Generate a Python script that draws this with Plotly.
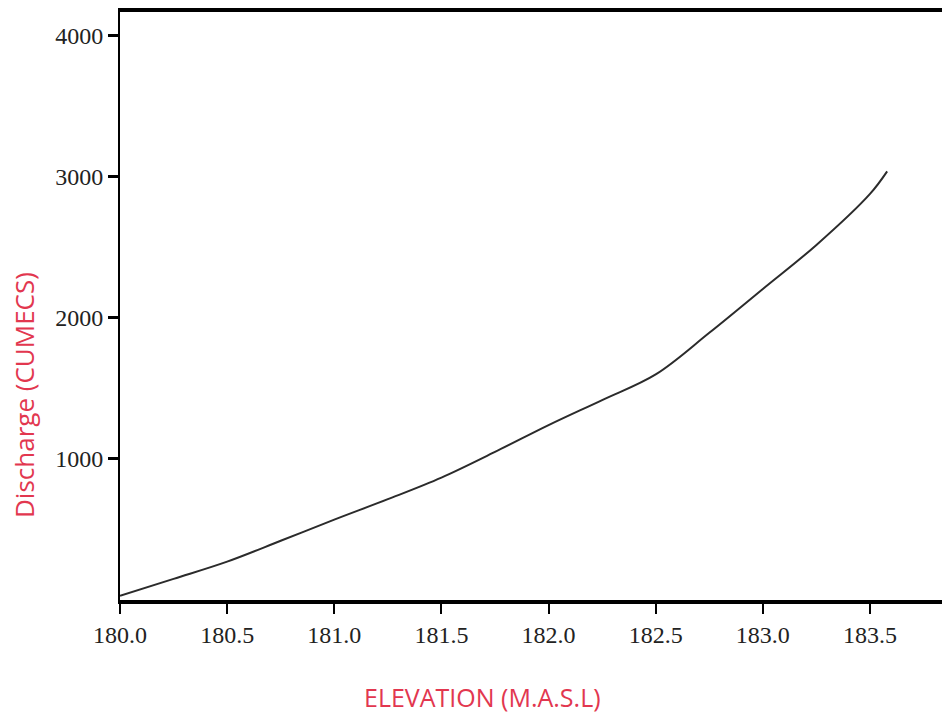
import plotly.graph_objects as go

# Stage-discharge rating curve
elevation = [180.0, 180.25, 180.5, 180.75, 181.0, 181.25, 181.5, 181.75,
             182.0, 182.25, 182.5, 182.75, 183.0, 183.25, 183.5, 183.58]
discharge = [30, 150, 272, 420, 570, 715, 868, 1050,
             1240, 1418, 1600, 1895, 2206, 2518, 2880, 3040]

x_ticks = [180.0, 180.5, 181.0, 181.5, 182.0, 182.5, 183.0, 183.5]
x_tick_text = ["180.0", "180.5", "181.0", "181.5", "182.0", "182.5", "183.0", "183.5"]
y_ticks = [1000, 2000, 3000, 4000]
y_tick_text = ["1000", "2000", "3000", "4000"]

title_color = "#e2374f"
tick_font = dict(family="Liberation Serif", size=24, color="#222222")

fig = go.Figure()
fig.add_trace(go.Scatter(
    x=elevation, y=discharge, mode="lines",
    line=dict(color="#2b2b2b", width=2, shape="spline", smoothing=1.0),
    showlegend=False, hoverinfo="skip",
))

fig.update_layout(
    width=942, height=718,
    margin=dict(l=120, r=0, t=12, b=118),
    paper_bgcolor="white", plot_bgcolor="white",
    xaxis=dict(
        range=[180.0, 183.836], tickvals=x_ticks, ticktext=x_tick_text,
        showgrid=False, zeroline=False,
        showline=True, linecolor="black", linewidth=4, mirror=True,
        ticks="outside", ticklen=10, tickwidth=2, tickcolor="black",
        tickfont=tick_font,
    ),
    yaxis=dict(
        range=[0, 4170], tickvals=y_ticks, ticktext=y_tick_text,
        showgrid=False, zeroline=False,
        showline=True, linecolor="black", linewidth=2,
        ticks="outside", ticklen=10, tickwidth=3, tickcolor="black",
        tickfont=tick_font,
    ),
    annotations=[
        dict(text="ELEVATION (M.A.S.L)", xref="paper", yref="paper",
             x=(482 - 120) / 822, y=-(697 - 600) / 588, xanchor="center", yanchor="middle",
             showarrow=False, font=dict(family="Open Sans", size=25, color=title_color)),
        dict(text="Discharge (CUMECS)", xref="paper", yref="paper",
             x=-(120 - 24) / 822, y=(600 - 395) / 588, xanchor="center", yanchor="middle",
             textangle=-90, showarrow=False,
             font=dict(family="Open Sans", size=26, color=title_color)),
    ],
)

fig.write_html("out.html")
